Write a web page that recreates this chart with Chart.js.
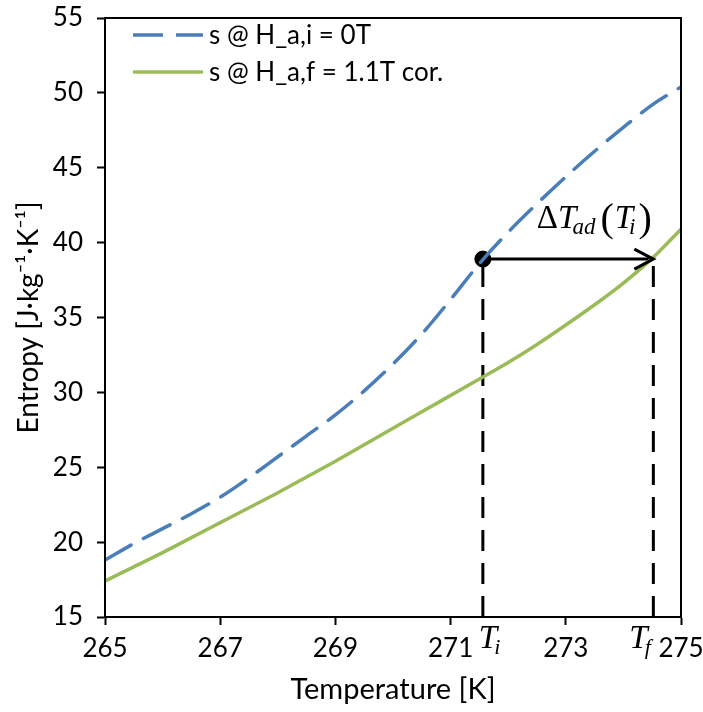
<!DOCTYPE html>
<html>
<head>
<meta charset="utf-8">
<script src="https://cdn.jsdelivr.net/npm/chart.js@4"></script>
<style>
  html, body { margin: 0; padding: 0; background: #fff; }
  #wrap { width: 703px; height: 712px; }
</style>
</head>
<body>
<div id="wrap"><canvas id="entropyChart" width="703" height="712"></canvas></div>
<script>
// temperatures [K] and entropies [J/(kg K)]
const temps = [265, 265.5, 266, 266.5, 267, 267.5, 268, 268.5, 269, 269.5, 270,
               270.5, 271, 271.5, 272, 272.5, 273, 273.5, 274, 274.5, 275];
const sZeroField = [18.8, 19.9, 20.9, 21.9, 23.0, 24.3, 25.7, 27.1, 28.5, 30.1, 31.9,
                    33.9, 36.2, 38.6, 40.7, 42.6, 44.4, 46.1, 47.7, 49.2, 50.4];
const sHighField = [17.4, 18.35, 19.3, 20.3, 21.3, 22.3, 23.3, 24.35, 25.4, 26.5, 27.6,
                    28.7, 29.8, 30.9, 32.0, 33.2, 34.5, 35.85, 37.3, 38.95, 40.9];
const seriesNames = ['s @ H_a,i = 0T', 's @ H_a,f = 1.1T cor.'];

// adiabatic step: start temperature, end temperature, entropy level
const tInit = 271.56;
const tFinal = 274.52;
const sStep = 38.9;

const xTicks = [265, 267, 269, 271, 273, 275];
const yMin = 15, yMax = 55, yStep = 5;

const blue = '#4A7EBB';
const green = '#9BBB59';
const axisFont = 'Lato';
const mathFont = '"Liberation Serif", "DejaVu Serif", serif';

const toPoints = (xs, ys) => xs.map((x, i) => ({ x: x, y: ys[i] }));

// frame, legend and the math labels
const decorations = {
  id: 'decorations',
  afterDraw(chart) {
    const ctx = chart.ctx;
    const area = chart.chartArea;
    const xs = chart.scales.x;
    const ys = chart.scales.y;
    ctx.save();

    // box around the plot
    ctx.strokeStyle = '#000';
    ctx.lineWidth = 2;
    ctx.strokeRect(area.left, area.top, area.right - area.left, area.bottom - area.top);

    // legend
    const lx = area.left + 28;
    const legendRows = [
      { y: area.top + 17, color: blue, dash: [30, 13] },
      { y: area.top + 54, color: green, dash: [] }
    ];
    ctx.font = '26px ' + axisFont;
    ctx.textBaseline = 'middle';
    ctx.textAlign = 'left';
    legendRows.forEach((row, i) => {
      ctx.beginPath();
      ctx.setLineDash(row.dash);
      ctx.strokeStyle = row.color;
      ctx.lineWidth = 3.5;
      ctx.moveTo(lx, row.y);
      ctx.lineTo(lx + 70, row.y);
      ctx.stroke();
      ctx.setLineDash([]);
      ctx.fillStyle = '#000';
      ctx.fillText(seriesNames[i], lx + 76, row.y + 1);
    });

    // arrowhead at the end of the step
    const ax = xs.getPixelForValue(tFinal);
    const ay = ys.getPixelForValue(sStep);
    ctx.beginPath();
    ctx.strokeStyle = '#000';
    ctx.lineWidth = 3;
    ctx.moveTo(ax - 19, ay - 10);
    ctx.lineTo(ax, ay);
    ctx.lineTo(ax - 19, ay + 10);
    ctx.stroke();

    // ΔT_ad(T_i)
    ctx.fillStyle = '#000';
    ctx.textBaseline = 'alphabetic';
    let px = xs.getPixelForValue(tInit) + 54;
    const base = ay - 31;
    ctx.font = '33px ' + mathFont;
    ctx.fillText('\u0394', px, base);
    px += ctx.measureText('\u0394').width;
    ctx.font = 'italic 33px ' + mathFont;
    ctx.fillText('T', px, base);
    px += ctx.measureText('T').width - 4;
    ctx.font = 'italic 23px ' + mathFont;
    ctx.fillText('ad', px, base + 6);
    px += ctx.measureText('ad').width + 5;
    ctx.font = '40px ' + mathFont;
    ctx.fillText('(', px, base + 3);
    px += ctx.measureText('(').width + 1;
    ctx.font = 'italic 33px ' + mathFont;
    ctx.fillText('T', px, base);
    px += ctx.measureText('T').width - 4;
    ctx.font = 'italic 23px ' + mathFont;
    ctx.fillText('i', px, base + 6);
    px += ctx.measureText('i').width + 3;
    ctx.font = '40px ' + mathFont;
    ctx.fillText(')', px, base + 3);

    // T_i and T_f under the axis
    const labelBase = area.bottom + 31;
    [[tInit, 'i', -4], [tFinal, 'f', -24]].forEach(([t, sub, dx]) => {
      const x = xs.getPixelForValue(t) + dx;
      ctx.font = 'italic 33px ' + mathFont;
      ctx.fillText('T', x, labelBase);
      const w = ctx.measureText('T').width;
      ctx.font = 'italic 22px ' + mathFont;
      ctx.fillText(sub, x + w - 3, labelBase + 6);
    });

    ctx.restore();
  }
};

const vLine = (t) => ({
  data: [{ x: t, y: yMin }, { x: t, y: sStep }],
  borderColor: '#000',
  borderWidth: 3,
  borderDash: [21, 12],
  pointRadius: 0,
  borderCapStyle: 'butt'
});

new Chart(document.getElementById('entropyChart'), {
  type: 'line',
  data: {
    datasets: [
      {
        label: seriesNames[0],
        data: toPoints(temps, sZeroField),
        borderColor: blue,
        borderWidth: 3.5,
        borderDash: [30, 14],
        borderCapStyle: 'round',
        cubicInterpolationMode: 'monotone',
        pointRadius: 0
      },
      {
        label: seriesNames[1],
        data: toPoints(temps, sHighField),
        borderColor: green,
        borderWidth: 3.5,
        cubicInterpolationMode: 'monotone',
        pointRadius: 0
      },
      vLine(tInit),
      vLine(tFinal),
      {
        data: [{ x: tInit, y: sStep }, { x: tFinal, y: sStep }],
        borderColor: '#000',
        borderWidth: 3,
        pointRadius: 0
      },
      {
        data: [{ x: tInit, y: sStep }],
        showLine: false,
        pointRadius: 8,
        pointBackgroundColor: '#000',
        pointBorderColor: '#000'
      }
    ]
  },
  options: {
    responsive: false,
    animation: false,
    layout: { padding: { top: 18, right: 22, left: 0, bottom: 0 } },
    plugins: {
      legend: { display: false },
      tooltip: { enabled: false }
    },
    scales: {
      x: {
        type: 'linear',
        min: xTicks[0],
        max: xTicks[xTicks.length - 1],
        afterBuildTicks: (scale) => { scale.ticks = xTicks.map(v => ({ value: v })); },
        afterFit: (scale) => {
          scale.height = 95;
          scale.paddingLeft = 0;
          scale.paddingRight = 0;
        },
        grid: { drawOnChartArea: false, tickLength: 8, tickColor: '#000', tickWidth: 2 },
        border: { display: true, color: '#000', width: 2 },
        ticks: { color: '#000', font: { family: axisFont, size: 26 }, padding: 8, maxRotation: 0 },
        title: {
          display: true,
          text: 'Temperature [K]',
          color: '#000',
          font: { family: axisFont, size: 29 },
          padding: { top: 0, bottom: 5 }
        }
      },
      y: {
        min: yMin,
        max: yMax,
        afterFit: (scale) => {
          scale.width = 105;
          scale.paddingTop = 0;
          scale.paddingBottom = 0;
        },
        grid: { drawOnChartArea: false, tickLength: 8, tickColor: '#000', tickWidth: 2 },
        border: { display: true, color: '#000', width: 2 },
        ticks: { stepSize: yStep, color: '#000', font: { family: axisFont, size: 26 }, padding: 14 },
        title: {
          display: true,
          text: 'Entropy [J\u00B7kg\u207B\u00B9\u00B7K\u207B\u00B9]',
          color: '#000',
          font: { family: axisFont, size: 28 },
          padding: { top: 12, bottom: 0 }
        }
      }
    }
  },
  plugins: [decorations]
});
</script>
</body>
</html>
